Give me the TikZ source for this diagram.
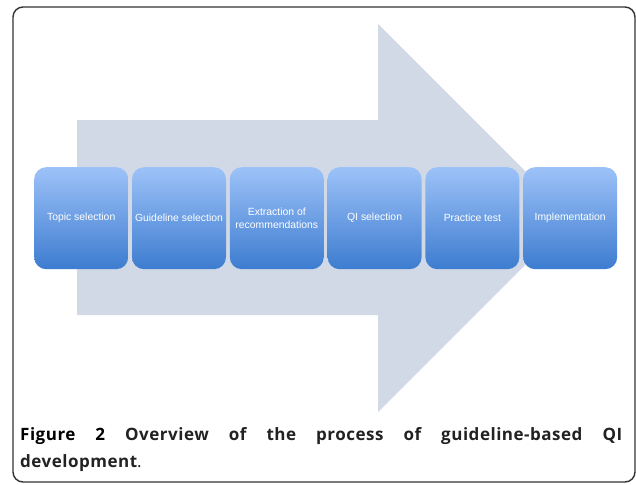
\documentclass[tikz,border=0pt]{standalone}
\usepackage{fontspec}
\setmainfont{Liberation Sans}
\newfontfamily\capfont[LetterSpace=3]{Open Sans}
\definecolor{arrowgray}{HTML}{D1D9E6}
\definecolor{boxtop}{HTML}{9DC2F8}
\definecolor{boxbot}{HTML}{3D7CD0}
\definecolor{framecol}{HTML}{333333}
\definecolor{captext}{HTML}{222222}
\tikzset{
  stepbox/.style={rounded corners=12pt, top color=boxtop, bottom color=boxbot,
    minimum width=94pt, minimum height=102pt, inner sep=0pt, text=white,
    font=\fontsize{10.4}{12.5}\selectfont, align=center, anchor=north west},
  capline/.style={anchor=base west, inner sep=0pt, text=captext,
    font=\capfont\fontsize{17}{20}\selectfont\bfseries},
}
\begin{document}
\begin{tikzpicture}[x=1pt,y=-1pt]
\useasboundingbox (0,0) rectangle (636,484);
\fill[white] (0,0) rectangle (636,484);
\draw[framecol, line width=1.4pt, rounded corners=10pt] (13,7) rectangle (635,482);
\fill[arrowgray] (77,120) -- (378,120) -- (378,24) -- (572,218) -- (378,412) -- (378,315) -- (77,315) -- cycle;
\node[stepbox] (b1) at (34,167) {Topic selection};
\node[stepbox] (b2) at (131.8,167) {Guideline selection};
\node[stepbox] (b3) at (229.6,167) {Extraction of\\recommendations};
\node[stepbox] (b4) at (327.4,167) {QI selection};
\node[stepbox] (b5) at (425.2,167) {Practice test};
\node[stepbox] (b6) at (523,167) {Implementation};
\node[capline] (cap1) at (20,440)
  {\makebox[602pt][s]{\textcolor{black}{Figure 2} Overview of the process of guideline-based QI}};
\node[capline] (cap2) at (20,467) {development\mdseries.};
\end{tikzpicture}
\end{document}
